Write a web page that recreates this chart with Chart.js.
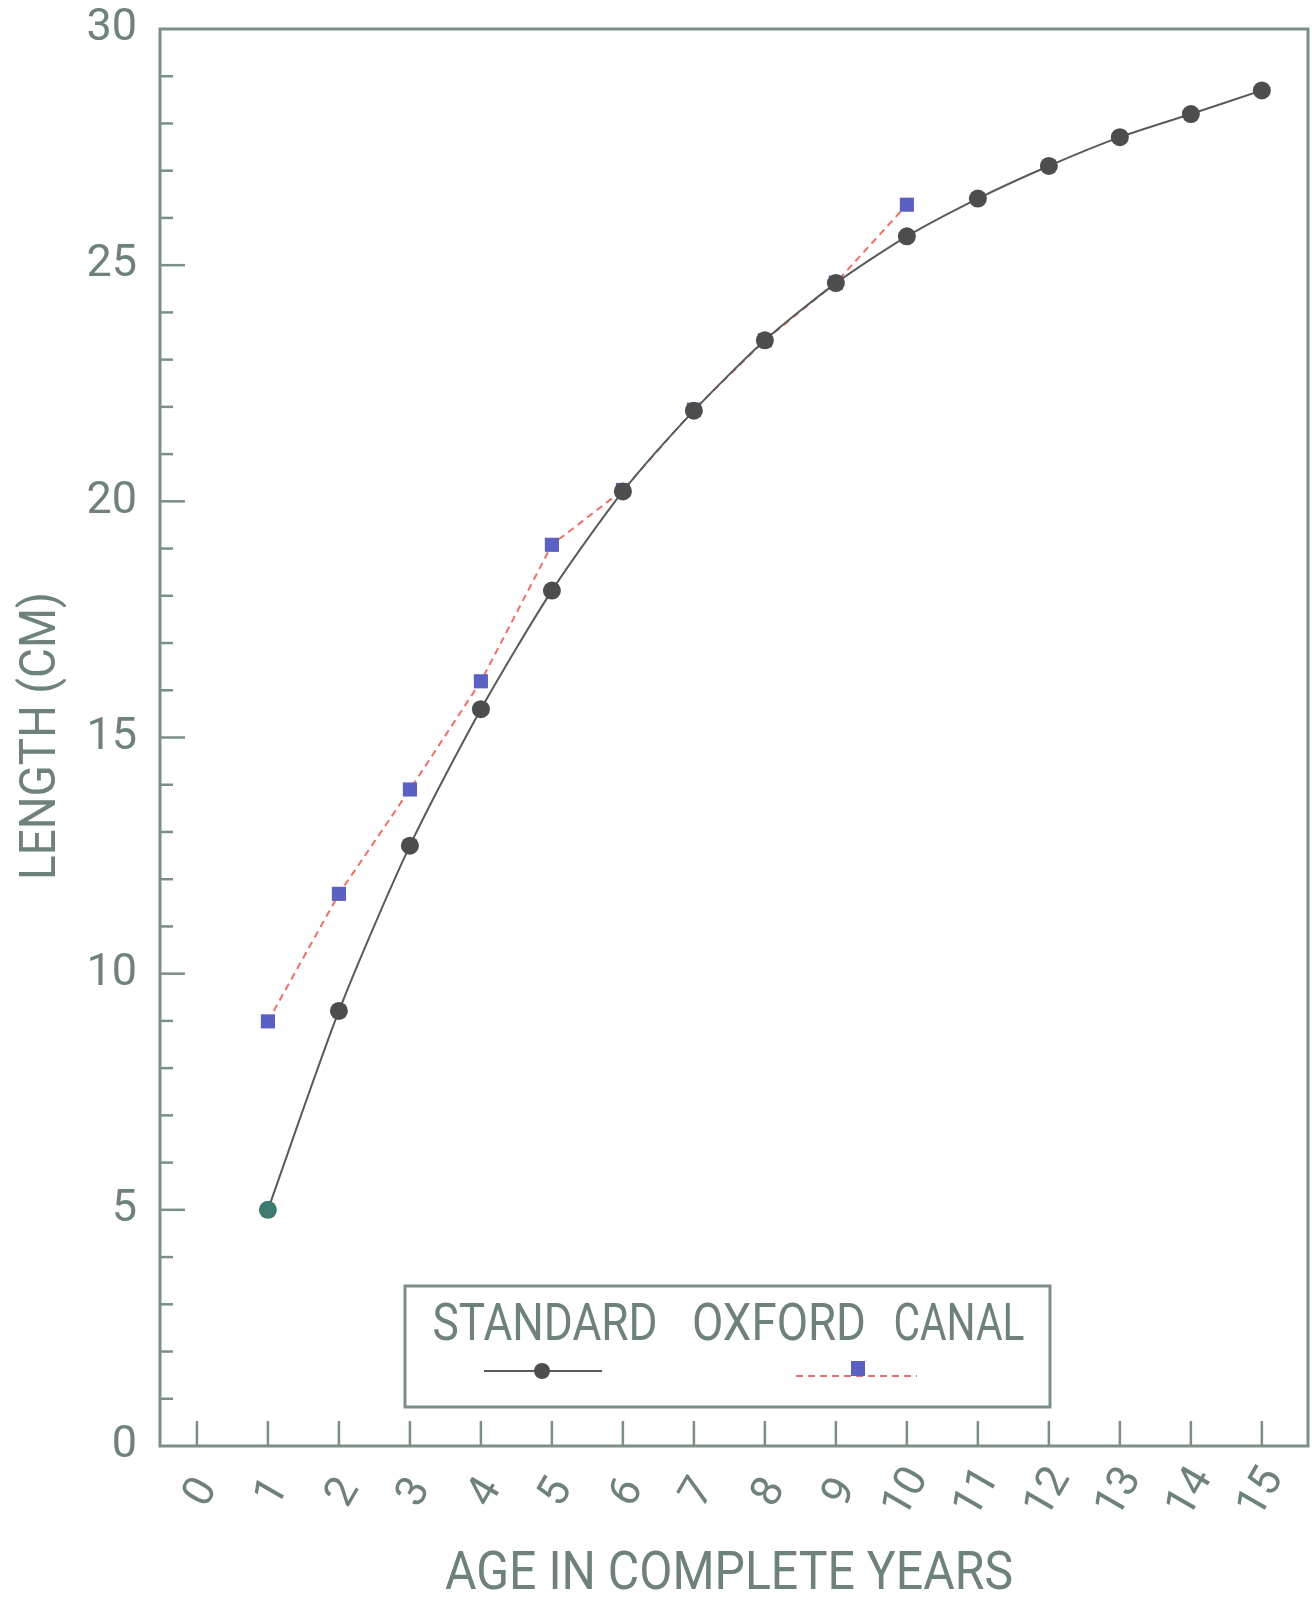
<!DOCTYPE html>
<html>
<head>
<meta charset="utf-8">
<script src="https://cdn.jsdelivr.net/npm/chart.js@4.4.0/dist/chart.umd.min.js"></script>
<style>
  html, body { margin: 0; padding: 0; background: #ffffff; }
  #wrap { width: 1312px; height: 1601px; }
</style>
</head>
<body>
<div id="wrap"><canvas id="chart" width="1312" height="1601"></canvas></div>
<script>
// data
const ages = [1, 2, 3, 4, 5, 6, 7, 8, 9, 10, 11, 12, 13, 14, 15];
const standardLength = [5.0, 9.21, 12.71, 15.6, 18.11, 20.21, 21.92, 23.41, 24.62, 25.61, 26.41, 27.1, 27.71, 28.2, 28.7];
const oxfordAges = [1, 2, 3, 4, 5, 6, 7, 8, 9, 10];
const oxfordLength = [8.99, 11.69, 13.9, 16.19, 19.08, 20.24, 21.94, 23.41, 24.63, 26.28];
const xTickValues = [0, 1, 2, 3, 4, 5, 6, 7, 8, 9, 10, 11, 12, 13, 14, 15];
const yTickValues = [0, 5, 10, 15, 20, 25, 30];
const legendNames = ['STANDARD', 'OXFORD', 'CANAL'];

const axisColor = '#7b8f84';
const textColor = '#6f8279';
const fontFamily = 'Roboto, "DejaVu Sans", sans-serif';

function drawText(ctx, text, cx, cy, capPx, targetWidth, angle, align) {
  const size = capPx / 0.711;
  ctx.save();
  ctx.font = size + 'px ' + fontFamily;
  ctx.fillStyle = textColor;
  ctx.textBaseline = 'middle';
  ctx.textAlign = align || 'center';
  let sx = 1;
  if (targetWidth) sx = targetWidth / ctx.measureText(text).width;
  ctx.translate(cx, cy);
  ctx.rotate(angle || 0);
  ctx.scale(sx, 1);
  ctx.fillText(text, 0, 0);
  ctx.restore();
}

const framePlugin = {
  id: 'frame',
  beforeDatasetsDraw(chart) {
    const ctx = chart.ctx;
    const a = chart.chartArea;
    const xs = chart.scales.x, ys = chart.scales.y;
    ctx.save();
    ctx.strokeStyle = axisColor;
    ctx.lineWidth = 3;
    ctx.strokeRect(a.left, a.top, a.right - a.left, a.bottom - a.top);

    // y ticks, pointing inward
    ctx.lineWidth = 2.5;
    for (let v = 1; v < 30; v++) {
      const py = ys.getPixelForValue(v);
      const len = v % 5 === 0 ? 25 : 13;
      ctx.beginPath();
      ctx.moveTo(a.left, py);
      ctx.lineTo(a.left + len, py);
      ctx.stroke();
    }
    // x ticks, pointing up
    xTickValues.forEach(function(v) {
      const px = xs.getPixelForValue(v);
      ctx.beginPath();
      ctx.moveTo(px, a.bottom);
      ctx.lineTo(px, a.bottom - 25);
      ctx.stroke();
    });
    ctx.restore();

    // tick labels
    yTickValues.forEach(function(v) {
      drawText(ctx, String(v), 137, ys.getPixelForValue(v), 32, 0, 0, 'right');
    });
    xTickValues.forEach(function(v) {
      const px = xs.getPixelForValue(v) + (v < 10 ? 5 : 0);
      drawText(ctx, String(v), px, 1493, 31, 0, -Math.PI / 3, 'center');
    });

    // axis titles
    drawText(ctx, 'LENGTH (CM)', 43, 736, 35, 288, -Math.PI / 2);
    drawText(ctx, 'AGE IN COMPLETE YEARS', 729, 1576, 38, 568, 0);
  },
  afterDraw(chart) {
    const ctx = chart.ctx;
    const std = chart.data.datasets[0];
    const oxf = chart.data.datasets[1];
    ctx.save();
    ctx.fillStyle = '#ffffff';
    ctx.fillRect(405, 1286, 645, 121);
    ctx.strokeStyle = axisColor;
    ctx.lineWidth = 3;
    ctx.strokeRect(405, 1286, 645, 121);

    drawText(ctx, legendNames[0], 545, 1327, 37, 225, 0);
    drawText(ctx, legendNames[1], 779, 1327, 37, 174, 0);
    drawText(ctx, legendNames[2], 959, 1327, 37, 131, 0);

    // standard sample
    ctx.strokeStyle = std.borderColor;
    ctx.lineWidth = std.borderWidth;
    ctx.beginPath();
    ctx.moveTo(484, 1371);
    ctx.lineTo(602, 1371);
    ctx.stroke();
    ctx.fillStyle = '#4d4d4d';
    ctx.beginPath();
    ctx.arc(542, 1371, 8, 0, Math.PI * 2);
    ctx.fill();

    // oxford sample
    ctx.strokeStyle = oxf.borderColor;
    ctx.lineWidth = oxf.borderWidth;
    ctx.setLineDash(oxf.borderDash);
    ctx.beginPath();
    ctx.moveTo(796, 1376);
    ctx.lineTo(917, 1376);
    ctx.stroke();
    ctx.setLineDash([]);
    ctx.fillStyle = oxf.pointBackgroundColor;
    ctx.fillRect(851, 1361, 14, 15);
    ctx.restore();
  }
};

const standardPoints = ages.map(function(a, i) { return { x: a, y: standardLength[i] }; });
const oxfordPoints = oxfordAges.map(function(a, i) { return { x: a, y: oxfordLength[i] }; });
const standardColors = ages.map(function(a, i) { return i === 0 ? '#3f7a70' : '#4d4d4d'; });

const chart = new Chart(document.getElementById('chart'), {
  type: 'line',
  data: {
    datasets: [
      {
        label: 'STANDARD',
        data: standardPoints,
        borderColor: '#555c59',
        borderWidth: 2,
        pointRadius: 9,
        pointBackgroundColor: standardColors,
        pointBorderWidth: 0,
        tension: 0.25
      },
      {
        label: 'OXFORD CANAL',
        data: oxfordPoints,
        borderColor: '#ec6f6a',
        borderWidth: 2,
        borderDash: [7, 5],
        pointStyle: 'rect',
        pointRadius: 10,
        pointBackgroundColor: '#5b61c2',
        pointBorderWidth: 0,
        tension: 0
      }
    ]
  },
  options: {
    responsive: false,
    animation: false,
    layout: { autoPadding: false, padding: { left: 160, top: 29, right: 4, bottom: 155 } },
    plugins: {
      legend: { display: false },
      tooltip: { enabled: false }
    },
    scales: {
      x: { type: 'linear', min: -0.52, max: 15.65, display: false },
      y: { type: 'linear', min: 0, max: 30, display: false }
    }
  },
  plugins: [framePlugin]
});
</script>
</body>
</html>
